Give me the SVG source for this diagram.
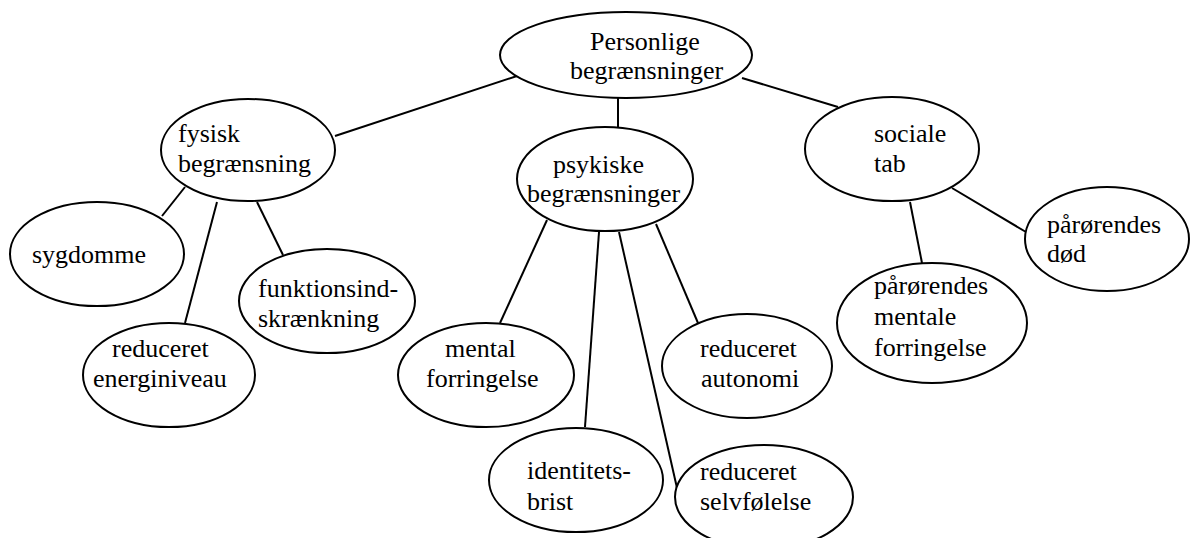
<svg xmlns="http://www.w3.org/2000/svg" width="1190" height="538" viewBox="0 0 1190 538">
<style>
ellipse{fill:#fff;stroke:#000;stroke-width:2}
line{stroke:#000;stroke-width:2}
.t{font-family:'Liberation Serif','DejaVu Serif',serif;font-size:26px;fill:#000}
</style>
<rect width="1190" height="538" fill="#fff"/>
<g id="connectors">
<line x1="517" y1="76" x2="335" y2="136"/>
<line x1="618" y1="97" x2="618" y2="127"/>
<line x1="742" y1="78" x2="838" y2="107"/>
<line x1="185" y1="187" x2="162" y2="216"/>
<line x1="217" y1="202" x2="185" y2="323"/>
<line x1="257" y1="202" x2="283" y2="255"/>
<line x1="547" y1="220" x2="500" y2="323"/>
<line x1="599" y1="232" x2="585" y2="427"/>
<line x1="619" y1="232" x2="677" y2="488"/>
<line x1="656" y1="224" x2="698" y2="323"/>
<line x1="910" y1="202" x2="922" y2="263"/>
<line x1="952" y1="188" x2="1026" y2="232"/>
</g>
<g class="t" font-family="Liberation Serif, DejaVu Serif, serif">
<g id="personlige"><ellipse cx="626" cy="55" rx="126" ry="43"/><text x="590" y="50">Personlige</text><text x="570" y="79">begrænsninger</text></g>
<g id="fysisk"><ellipse cx="248" cy="150" rx="87" ry="51"/><text x="178" y="142">fysisk</text><text x="178" y="172">begrænsning</text></g>
<g id="psykiske"><ellipse cx="605" cy="179" rx="88" ry="52"/><text x="553" y="173">psykiske</text><text x="527" y="202">begrænsninger</text></g>
<g id="sociale"><ellipse cx="892" cy="149" rx="87" ry="52"/><text x="874" y="142">sociale</text><text x="874" y="172">tab</text></g>
<g id="sygdomme"><ellipse cx="97" cy="254" rx="87" ry="52"/><text x="32" y="263">sygdomme</text></g>
<g id="funktion"><ellipse cx="327" cy="301" rx="88" ry="52"/><text x="258" y="297">funktionsind-</text><text x="258" y="327">skrænkning</text></g>
<g id="energi"><ellipse cx="169" cy="375" rx="86" ry="52"/><text x="112" y="357">reduceret</text><text x="93" y="387">energiniveau</text></g>
<g id="mental"><ellipse cx="486" cy="375" rx="88" ry="52"/><text x="445" y="357">mental</text><text x="426" y="387">forringelse</text></g>
<g id="identitet"><ellipse cx="576" cy="480" rx="87" ry="52"/><text x="527" y="479">identitets-</text><text x="527" y="510">brist</text></g>
<g id="autonomi"><ellipse cx="747" cy="366" rx="85" ry="52"/><text x="700" y="357">reduceret</text><text x="701" y="387">autonomi</text></g>
<g id="selvfoelelse"><ellipse cx="764" cy="497" rx="89" ry="52"/><text x="700" y="480">reduceret</text><text x="700" y="510">selvfølelse</text></g>
<g id="paaroerendes-mentale"><ellipse cx="932" cy="323" rx="95" ry="60"/><text x="874" y="294">pårørendes</text><text x="874" y="325">mentale</text><text x="874" y="356">forringelse</text></g>
<g id="paaroerendes-doed"><ellipse cx="1107" cy="239" rx="82" ry="52"/><text x="1047" y="233">pårørendes</text><text x="1047" y="262">død</text></g>
</g>
</svg>
